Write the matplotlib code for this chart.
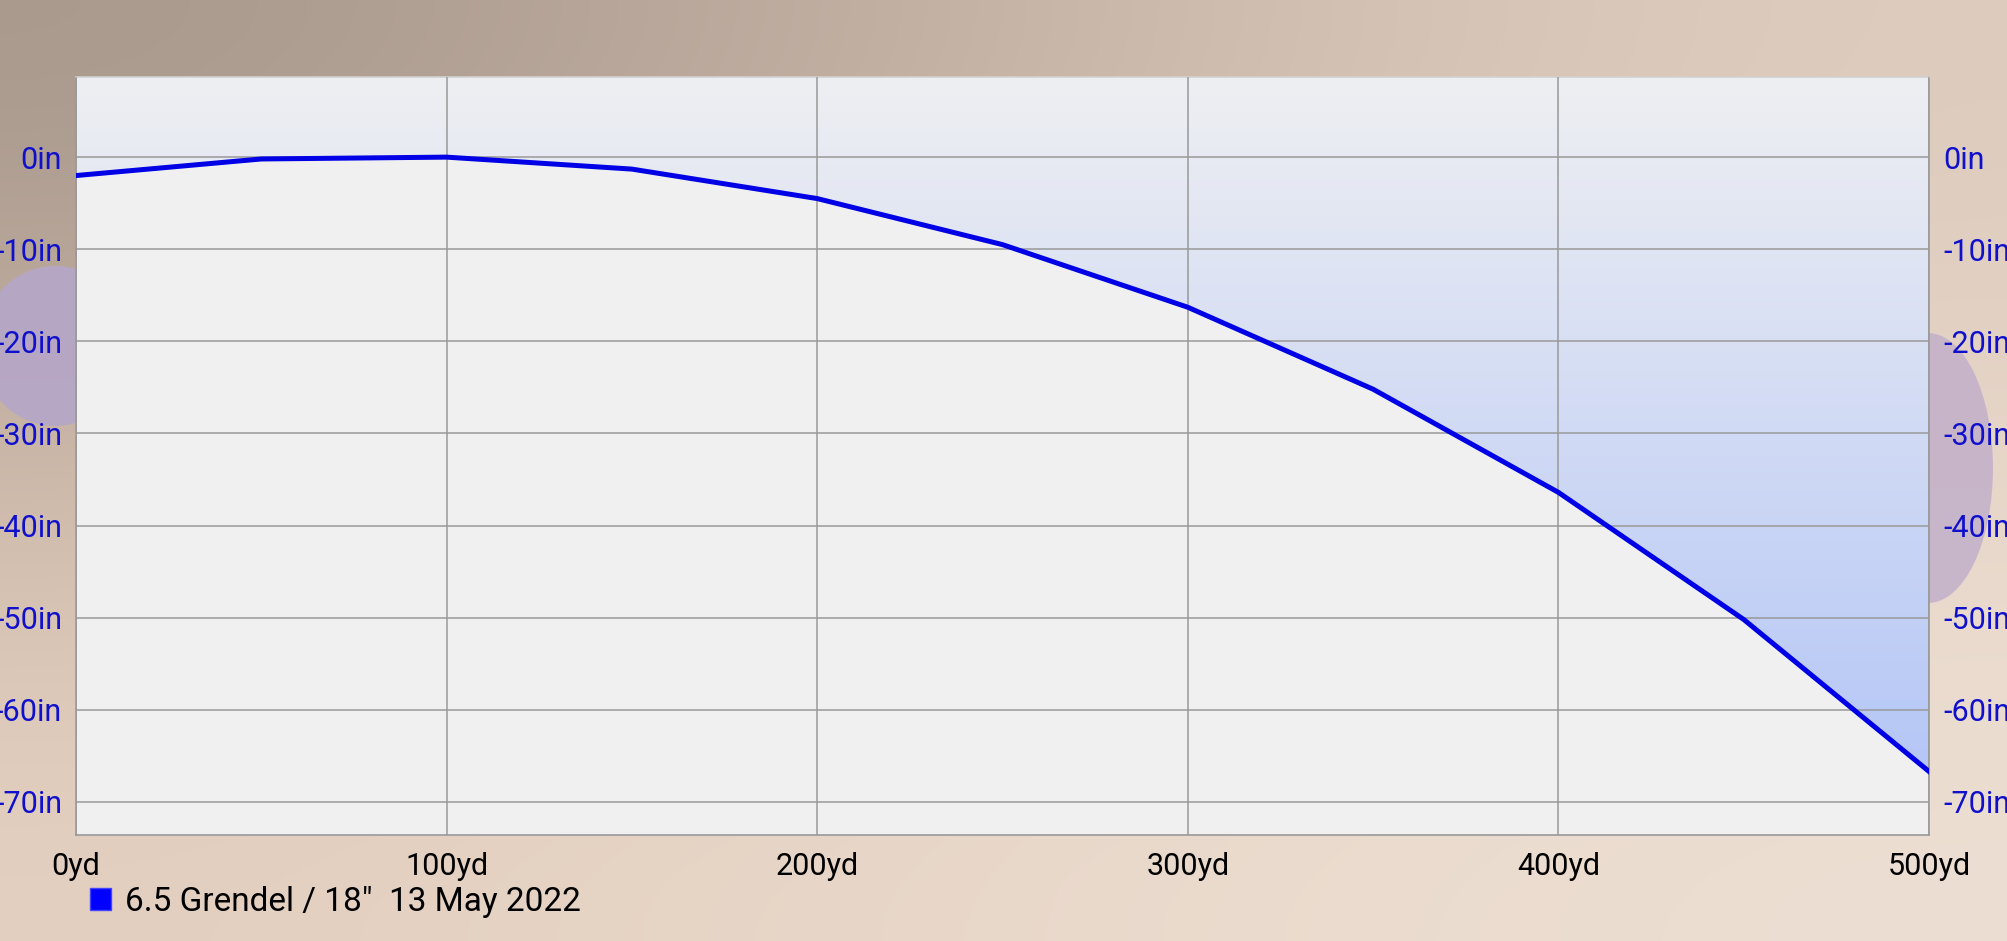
import numpy as np
import matplotlib
matplotlib.use("Agg")
import matplotlib.pyplot as plt
from matplotlib.patches import Ellipse, Polygon, Patch
from matplotlib.colors import LinearSegmentedColormap

plt.rcParams['font.family'] = ['Roboto', 'DejaVu Sans']

# Trajectory data (drop in inches at each range)
range_yd = [0, 50, 100, 150, 200, 250, 300, 350, 400, 450, 500]
drop_in = [-2.0, -0.2, 0.0, -1.3, -4.5, -9.5, -16.3, -25.2, -36.4, -50.2, -66.7]
x_ticks = [0, 100, 200, 300, 400, 500]
y_ticks = [0, -10, -20, -30, -40, -50, -60, -70]
series_label = '6.5 Grendel / 18"  13 May 2022'

Y_MIN, Y_MAX = -73.6, 8.7

fig = plt.figure(figsize=(20.08, 9.41), dpi=100)

# Background: brushed-metal style gradient
bg = fig.add_axes([0, 0, 1, 1], zorder=-10)
bg.set_axis_off()
corners = np.array([
    [[168, 152, 140], [198, 180, 166], [222, 204, 190]],
    [[205, 185, 170], [222, 204, 190], [232, 216, 202]],
    [[228, 208, 192], [234, 218, 204], [236, 222, 210]],
]) / 255.0
bg.imshow(corners, extent=[0, 1, 0, 1], aspect='auto', interpolation='bicubic',
          transform=bg.transAxes)
bg.set_xlim(0, 1)
bg.set_ylim(0, 1)
bg.add_patch(Ellipse((55 / 2008, 1 - 346 / 941), 150 / 2008, 160 / 941,
                     color='#b5a6c8', alpha=0.9, lw=0))
bg.add_patch(Ellipse((1928 / 2008, 1 - 468 / 941), 130 / 2008, 270 / 941,
                     color='#c2afca', alpha=0.85, lw=0))

ax = fig.add_axes([76 / 2008, 1 - 835 / 941, (1929 - 76) / 2008, (835 - 77) / 941])
ax.set_facecolor('#f0f0f0')

# Gradient fill above the trajectory (light at top, bluer toward the bottom)
cmap = LinearSegmentedColormap.from_list('fill', ['#eeeff2', '#b0c3f7'])
grad = np.linspace(0, 1, 256).reshape(-1, 1)
im = ax.imshow(grad, cmap=cmap, extent=[range_yd[0], range_yd[-1], Y_MIN, Y_MAX],
               origin='upper', aspect='auto', zorder=1)
clip = Polygon(list(zip(range_yd, drop_in)) + [(range_yd[-1], Y_MAX), (range_yd[0], Y_MAX)],
               closed=True, transform=ax.transData, facecolor='none', edgecolor='none')
ax.add_patch(clip)
im.set_clip_path(clip)

ax.plot(range_yd, drop_in, color='#0000e6', lw=3.6, zorder=3, solid_joinstyle='miter')

ax.set_xlim(range_yd[0], range_yd[-1])
ax.set_ylim(Y_MIN, Y_MAX)
ax.set_xticks(x_ticks)
ax.set_xticklabels([f"{v}yd" for v in x_ticks])
ax.set_yticks(y_ticks)
ax.set_yticklabels([f"{v}in" for v in y_ticks])
ax.grid(True, color='#999999', lw=1.1, zorder=2)
ax.set_axisbelow(False)
ax.tick_params(axis='both', length=0, labelsize=22)
ax.tick_params(axis='x', pad=12, labelcolor='black')
ax.tick_params(axis='y', pad=10, labelcolor='#1010cc', labelright=True)
for s in ax.spines.values():
    s.set_color('#999999')
    s.set_linewidth(1.2)
ax.spines['top'].set_color('#d0d0d0')

fig.legend(handles=[Patch(facecolor='#0000ff', edgecolor='#4444ff', label=series_label)],
           loc='center left', bbox_to_anchor=(90 / 2008, 1 - 902 / 941), frameon=False,
           fontsize=24, handlelength=0.62, handleheight=0.62, handletextpad=0.42,
           borderpad=0, borderaxespad=0)

fig.savefig('out.png', dpi=100)
